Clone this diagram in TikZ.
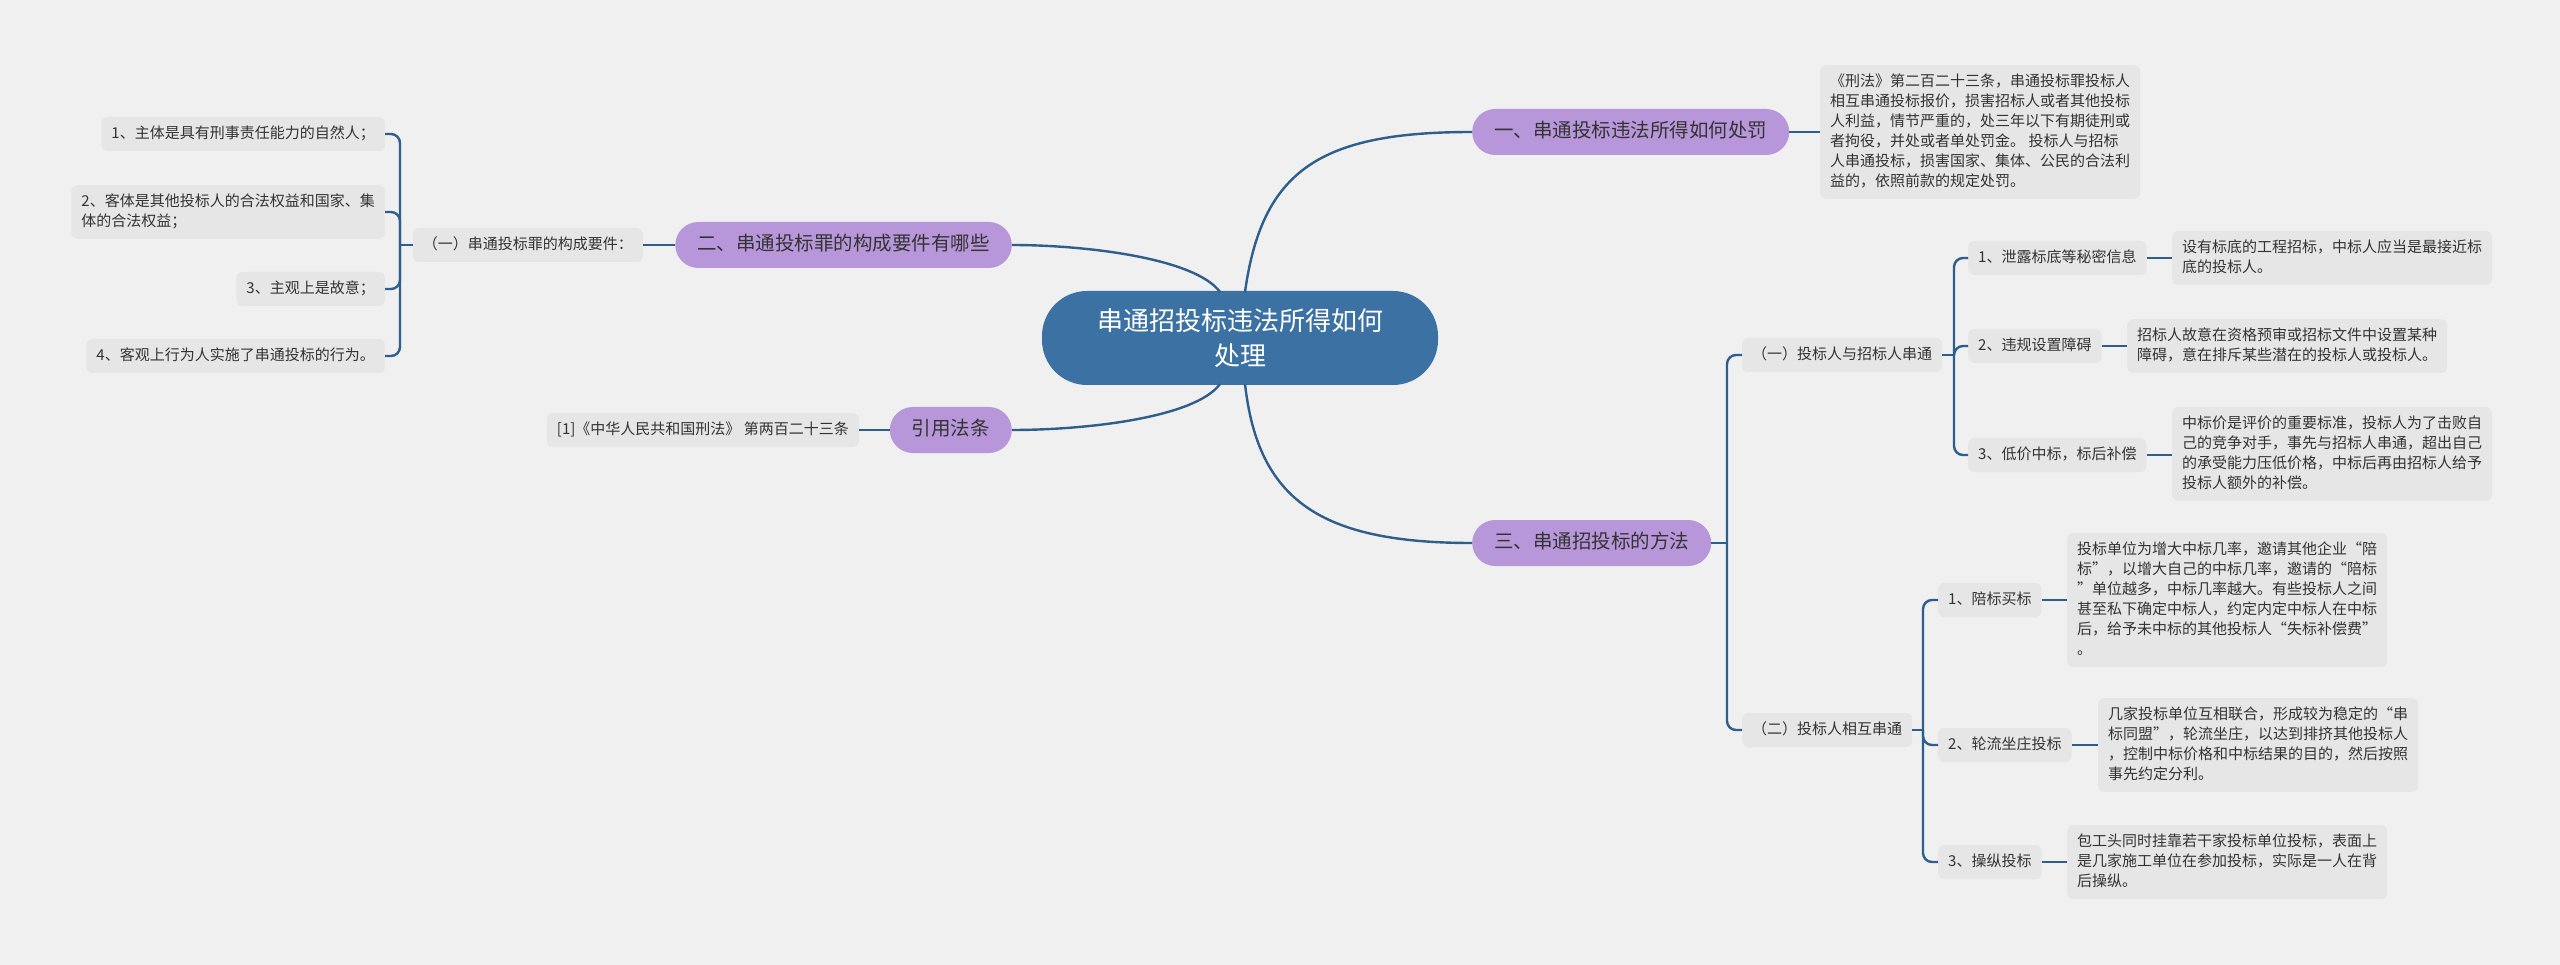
\documentclass[tikz,border=0pt]{standalone}
\usepackage{fontspec}
\setmainfont{Noto Sans CJK SC}
\usetikzlibrary{calc}
\definecolor{bgc}{HTML}{F0F0F0}
\definecolor{leafc}{HTML}{E6E6E6}
\definecolor{purp}{HTML}{B797DA}
\definecolor{rootc}{HTML}{3B71A3}
\definecolor{linec}{HTML}{2E5E8C}
\definecolor{txt}{HTML}{333333}
\newcommand\mystrut{\rule[-4pt]{0pt}{17pt}}
\newcommand\bstrut{\rule[-5pt]{0pt}{21pt}}
\begin{document}
\begin{tikzpicture}[x=1pt,y=-1pt,
  leaf/.style={fill=leafc, rounded corners=6pt, inner xsep=10pt, inner ysep=8.5pt,
    font=\fontsize{15}{20}\selectfont, text=txt, align=left,
    execute at begin node=\mystrut, execute at end node=\mystrut},
  branch/.style={fill=purp, rounded corners=23pt, inner xsep=22pt, inner ysep=0pt,
    minimum height=46pt, font=\fontsize{19.5}{24}\selectfont, text=txt,
    execute at begin node=\bstrut},
  rootnode/.style={fill=rootc, rounded corners=45pt, minimum width=396pt, minimum height=94pt,
    font=\fontsize{26}{35}\selectfont, text=white, align=center},
  conn/.style={draw=linec, line width=2.4pt},
  brk/.style={conn, rounded corners=9pt}]
\fill[bgc] (0,0) rectangle (2560,965);
\useasboundingbox (0,0) rectangle (2560,965);

% root
\node[rootnode] (root) at (1240,338) {串通招投标违法所得如何\\处理};
\coordinate (rt1) at (1245,292);
\coordinate (rt2) at (1220,292);
\coordinate (rb1) at (1245,384);
\coordinate (rb2) at (1220,384);

% main branches
\node[branch, anchor=west] (b1) at (1472,132) {一、串通投标违法所得如何处罚};
\node[branch, anchor=east] (b2) at (1012,245) {二、串通投标罪的构成要件有哪些};
\node[branch, anchor=east] (b4) at (1012,430) {引用法条};
\node[branch, anchor=west] (b3) at (1472,543) {三、串通招投标的方法};

\draw[conn] (rt1) .. controls (1262,170) and (1320,132) .. (b1.west);
\draw[conn] (rt2) .. controls (1195,258) and (1085,245) .. (b2.east);
\draw[conn] (rb1) .. controls (1258,500) and (1320,543) .. (b3.west);
\draw[conn] (rb2) .. controls (1195,418) and (1085,430) .. (b4.east);

% branch 1
\node[leaf, anchor=west] (d1) at (1820,132) {《刑法》第二百二十三条，串通投标罪投标人\\相互串通投标报价，损害招标人或者其他投标\\人利益，情节严重的，处三年以下有期徒刑或\\者拘役，并处或者单处罚金。 投标人与招标\\人串通投标，损害国家、集体、公民的合法利\\益的，依照前款的规定处罚。};
\draw[conn] (b1.east) -- (d1.west);

% branch 2
\node[leaf, anchor=east] (l1) at (643,245) {（一）串通投标罪的构成要件：};
\draw[conn] (b2.west) -- (l1.east);
\node[leaf, anchor=east] (li1) at (385,134) {1、主体是具有刑事责任能力的自然人；};
\node[leaf, anchor=east] (li2) at (385,212) {2、客体是其他投标人的合法权益和国家、集\\体的合法权益；};
\node[leaf, anchor=east] (li3) at (385,289) {3、主观上是故意；};
\node[leaf, anchor=east] (li4) at (385,356) {4、客观上行为人实施了串通投标的行为。};
\coordinate (jl) at (400,245);
\draw[conn] (l1.west) -- (jl);
\foreach \n in {li1,li2,li3,li4} \draw[brk] (jl) |- (\n.east);

% citation
\node[leaf, anchor=east] (cite) at (859,430) {[1]《中华人民共和国刑法》 第两百二十三条};
\draw[conn] (b4.west) -- (cite.east);

% branch 3
\node[leaf, anchor=west] (c1) at (1742,355) {（一）投标人与招标人串通};
\node[leaf, anchor=west] (c2) at (1742,730) {（二）投标人相互串通};
\coordinate (j3) at (1727,543);
\draw[conn] (b3.east) -- (j3);
\draw[brk] (j3) |- (c1.west);
\draw[brk] (j3) |- (c2.west);

% (一) children
\node[leaf, anchor=west] (g1) at (1968,258) {1、泄露标底等秘密信息};
\node[leaf, anchor=west] (g2) at (1968,346) {2、违规设置障碍};
\node[leaf, anchor=west] (g3) at (1968,455) {3、低价中标，标后补偿};
\coordinate (jc1) at (1954,355);
\draw[conn] (c1.east) -- (jc1);
\foreach \n in {g1,g2,g3} \draw[brk] (jc1) |- (\n.west);

\node[leaf, anchor=west] (gd1) at (2172,258) {设有标底的工程招标，中标人应当是最接近标\\底的投标人。};
\node[leaf, anchor=west] (gd2) at (2127,346) {招标人故意在资格预审或招标文件中设置某种\\障碍，意在排斥某些潜在的投标人或投标人。};
\node[leaf, anchor=west] (gd3) at (2172,454) {中标价是评价的重要标准，投标人为了击败自\\己的竞争对手，事先与招标人串通，超出自己\\的承受能力压低价格，中标后再由招标人给予\\投标人额外的补偿。};
\draw[conn] (g1.east) -- (gd1.west);
\draw[conn] (g2.east) -- (gd2.west);
\draw[conn] (g3.east) -- (g3.east -| gd3.west);

% (二) children
\node[leaf, anchor=west] (h1) at (1938,600) {1、陪标买标};
\node[leaf, anchor=west] (h2) at (1938,745) {2、轮流坐庄投标};
\node[leaf, anchor=west] (h3) at (1938,862) {3、操纵投标};
\coordinate (jc2) at (1923,730);
\draw[conn] (c2.east) -- (jc2);
\foreach \n in {h1,h2,h3} \draw[brk] (jc2) |- (\n.west);

\node[leaf, anchor=west] (hd1) at (2067,600) {投标单位为增大中标几率，邀请其他企业“陪\\标”，以增大自己的中标几率，邀请的“陪标\\”单位越多，中标几率越大。有些投标人之间\\甚至私下确定中标人，约定内定中标人在中标\\后，给予未中标的其他投标人“失标补偿费”\\。};
\node[leaf, anchor=west] (hd2) at (2098,745) {几家投标单位互相联合，形成较为稳定的“串\\标同盟”，轮流坐庄，以达到排挤其他投标人\\，控制中标价格和中标结果的目的，然后按照\\事先约定分利。};
\node[leaf, anchor=west] (hd3) at (2067,862) {包工头同时挂靠若干家投标单位投标，表面上\\是几家施工单位在参加投标，实际是一人在背\\后操纵。};
\draw[conn] (h1.east) -- (hd1.west);
\draw[conn] (h2.east) -- (hd2.west);
\draw[conn] (h3.east) -- (hd3.west);
\end{tikzpicture}
\end{document}
